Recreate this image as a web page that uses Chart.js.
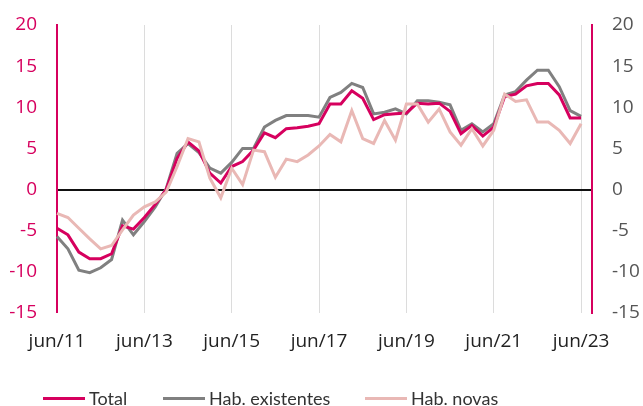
<!DOCTYPE html>
<html>
<head>
<meta charset="utf-8">
<script src="https://cdn.jsdelivr.net/npm/chart.js@4"></script>
<style>
  html, body { margin: 0; padding: 0; background: #fff; }
  #wrap { position: relative; width: 643px; height: 406px; overflow: hidden; }
  .item { position: absolute; top: 387px; display: flex; align-items: center; font-family: Lato, sans-serif; font-size: 18px; color: #333; white-space: nowrap; }
  .item span.sw { display: inline-block; width: 42px; height: 3px; margin-right: 4px; }
</style>
</head>
<body>
<div id="wrap">
  <canvas id="chart" width="643" height="406"></canvas>
  <div class="item" style="left:43px"><span class="sw" style="background:#d6005e"></span>Total</div>
  <div class="item" style="left:163px"><span class="sw" style="background:#808080"></span>Hab. existentes</div>
  <div class="item" style="left:365px"><span class="sw" style="background:#e9b8b5"></span>Hab. novas</div>
</div>
<script>
const labels = [
  'jun/11', 'set/11', 'dez/11', 'mar/12', 'jun/12', 'set/12', 'dez/12', 'mar/13',
  'jun/13', 'set/13', 'dez/13', 'mar/14', 'jun/14', 'set/14', 'dez/14', 'mar/15',
  'jun/15', 'set/15', 'dez/15', 'mar/16', 'jun/16', 'set/16', 'dez/16', 'mar/17',
  'jun/17', 'set/17', 'dez/17', 'mar/18', 'jun/18', 'set/18', 'dez/18', 'mar/19',
  'jun/19', 'set/19', 'dez/19', 'mar/20', 'jun/20', 'set/20', 'dez/20', 'mar/21',
  'jun/21', 'set/21', 'dez/21', 'mar/22', 'jun/22', 'set/22', 'dez/22', 'mar/23',
  'jun/23', 'set/23'
];

const total = [
  -4.7, -5.5, -7.6, -8.4, -8.4, -7.8, -4.4, -4.8, -3.4, -1.8,
  0.0, 3.8, 5.8, 4.7, 2.0, 0.8, 2.8, 3.4, 4.8, 6.9,
  6.3, 7.4, 7.5, 7.7, 8.0, 10.4, 10.4, 12.0, 11.1, 8.5,
  9.1, 9.2, 9.3, 10.5, 10.4, 10.5, 9.5, 6.8, 7.8, 6.5,
  7.6, 11.3, 11.6, 12.6, 12.9, 12.9, 11.5, 8.7, 8.7, null
];

const existentes = [
  -5.7, -7.2, -9.8, -10.1, -9.5, -8.5, -3.7, -5.5, -3.9, -2.1,
  0.1, 4.4, 5.6, 4.5, 2.6, 2.0, 3.3, 5.0, 5.0, 7.6,
  8.4, 9.0, 9.0, 9.0, 8.8, 11.2, 11.8, 12.9, 12.4, 9.2,
  9.4, 9.8, 9.2, 10.8, 10.8, 10.6, 10.3, 7.2, 8.0, 7.0,
  8.0, 11.5, 11.9, 13.3, 14.5, 14.5, 12.5, 9.6, 8.9, null
];

const novas = [
  -2.9, -3.4, -4.7, -6.0, -7.2, -6.8, -4.9, -3.1, -2.1, -1.5,
  -0.3, 2.8, 6.2, 5.8, 1.4, -1.0, 2.6, 0.6, 4.8, 4.6,
  1.5, 3.7, 3.4, 4.2, 5.3, 6.7, 5.8, 9.6, 6.2, 5.6,
  8.4, 6.0, 10.4, 10.4, 8.2, 9.8, 7.0, 5.4, 7.4, 5.3,
  7.2, 11.6, 10.7, 10.9, 8.2, 8.2, 7.2, 5.6, 8.0, null
];

const yTicks = [-15, -10, -5, 0, 5, 10, 15, 20];

const tickFont = { family: 'Open Sans, Lato, sans-serif', size: 19 };

new Chart(document.getElementById('chart'), {
  type: 'line',
  data: {
    labels: labels,
    datasets: [
      { label: 'Total', data: total, borderColor: '#d6005e', borderWidth: 3, pointRadius: 0, tension: 0, order: 2 },
      { label: 'Hab. existentes', data: existentes, borderColor: '#808080', borderWidth: 3, pointRadius: 0, tension: 0, order: 3 },
      { label: 'Hab. novas', data: novas, borderColor: '#e9b8b5', borderWidth: 3, pointRadius: 0, tension: 0, order: 1 }
    ]
  },
  options: {
    responsive: false,
    devicePixelRatio: 1,
    animation: false,
    layout: { padding: { top: 25, left: 0, right: 0, bottom: 0 } },
    plugins: { legend: { display: false }, tooltip: { enabled: false } },
    scales: {
      x: {
        offset: false,
        border: { display: false },
        grid: {
          drawTicks: false,
          lineWidth: 1,
          color: (ctx) => (ctx.index % 8 === 0 && ctx.index > 0) ? '#dcdcdc' : 'rgba(0,0,0,0)'
        },
        ticks: {
          autoSkip: false,
          maxRotation: 0,
          minRotation: 0,
          padding: 17,
          color: '#222',
          font: tickFont,
          callback: (v, i) => (i % 8 === 0 ? labels[i] : '')
        },
        afterFit: (scale) => { scale.height = 93; }
      },
      y: {
        position: 'left',
        min: -15,
        max: 20,
        border: { display: true, color: '#d6005e', width: 2 },
        grid: {
          drawTicks: true,
          tickLength: 18,
          tickColor: 'rgba(0,0,0,0)',
          lineWidth: (ctx) => (ctx.tick && ctx.tick.value === 0 ? 2 : 0),
          color: (ctx) => (ctx.tick && ctx.tick.value === 0 ? '#111' : 'rgba(0,0,0,0)')
        },
        afterBuildTicks: (scale) => { scale.ticks = yTicks.map(v => ({ value: v })); },
        ticks: { padding: 2, color: '#d6005e', font: tickFont },
        afterFit: (scale) => { scale.width = 57; }
      },
      y2: {
        position: 'right',
        min: -15,
        max: 20,
        border: { display: true, color: '#d6005e', width: 2 },
        grid: { drawOnChartArea: false, drawTicks: true, tickLength: 18, tickColor: 'rgba(0,0,0,0)' },
        afterBuildTicks: (scale) => { scale.ticks = yTicks.map(v => ({ value: v })); },
        ticks: { padding: 2, color: '#555', font: tickFont },
        afterFit: (scale) => { scale.width = 51; }
      }
    }
  }
});
</script>
</body>
</html>
